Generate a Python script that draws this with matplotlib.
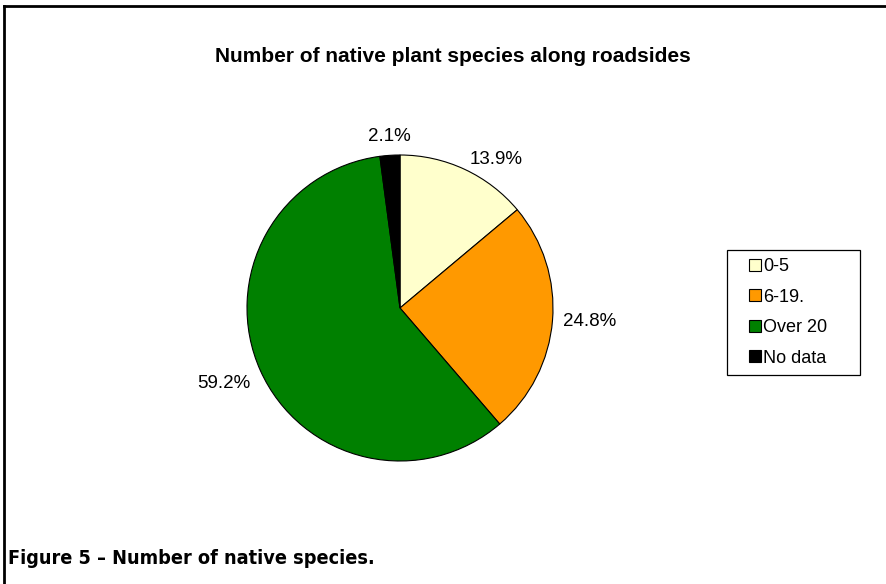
import matplotlib.pyplot as plt
from matplotlib.lines import Line2D
from matplotlib.patches import Rectangle

# ── Data ────────────────────────────────────────────────────────────────────
CATEGORIES = ["0-5", "6-19.", "Over 20", "No data"]
SHARES     = [13.9, 24.8, 59.2, 2.1]
COLORS     = ["#FFFFCC", "#FF9900", "#008000", "#000000"]

TITLE   = "Number of native plant species along roadsides"
CAPTION = "Figure 5 \u2013 Number of native species."

ARIAL = "Liberation Sans"
W, H = 886, 584
fig = plt.figure(figsize=(W / 100, H / 100), dpi=100)
fig.patch.set_facecolor("white")

# frame lines along the top and left edge
fig.add_artist(Line2D([3.5 / W, 1], [1 - 5.5 / H, 1 - 5.5 / H], color="black", lw=2))
fig.add_artist(Line2D([3.5 / W, 3.5 / W], [0, 1 - 5.5 / H], color="black", lw=2))

# ── Pie ─────────────────────────────────────────────────────────────────────
cx, cy, r = 400, 308, 153
ax = fig.add_axes([(cx - r) / W, (H - cy - r) / H, 2 * r / W, 2 * r / H])
wedges, texts = ax.pie(SHARES, colors=COLORS, startangle=90, counterclock=False,
                       labels=[f"{v:.1f}%" for v in SHARES], labeldistance=1.07,
                       wedgeprops=dict(edgecolor="black", linewidth=0.8),
                       textprops=dict(fontsize=13.5, family=ARIAL))
ax.set_xlim(-1, 1)
ax.set_ylim(-1, 1)
ax.set_aspect("equal")
for t in texts:
    t.set_clip_on(False)
    x, y = t.get_position()
    if abs(x) < 0.2:
        t.set_ha("center")
        t.set_va("bottom")
    elif y < -0.2:
        t.set_va("top")

fig.text(453 / W, 1 - 57 / H, TITLE, ha="center", va="center",
         fontsize=15, fontweight="bold", family=ARIAL)

# ── Legend ──────────────────────────────────────────────────────────────────
fig.add_artist(Rectangle((727 / W, 1 - 375 / H), 133 / W, 125 / H,
                         transform=fig.transFigure, facecolor="white",
                         edgecolor="black", linewidth=0.9))
leg = fig.legend(wedges, CATEGORIES, loc="upper left",
                 bbox_to_anchor=(749 / W, 1 - 258 / H),
                 frameon=False, prop=dict(family=ARIAL, size=13),
                 handlelength=0.65, handleheight=0.65, handletextpad=0.15,
                 labelspacing=0.75, borderpad=0, borderaxespad=0)
for h in leg.legend_handles:
    h.set_edgecolor("black")
    h.set_linewidth(0.8)

fig.text(8 / W, 1 - 558 / H, CAPTION, ha="left", va="center", fontsize=14.2,
         fontweight="bold", fontstretch="condensed",
         family=["DejaVu Sans Condensed", "DejaVu Sans"])

plt.savefig("out.png", dpi=100)
plt.close()
